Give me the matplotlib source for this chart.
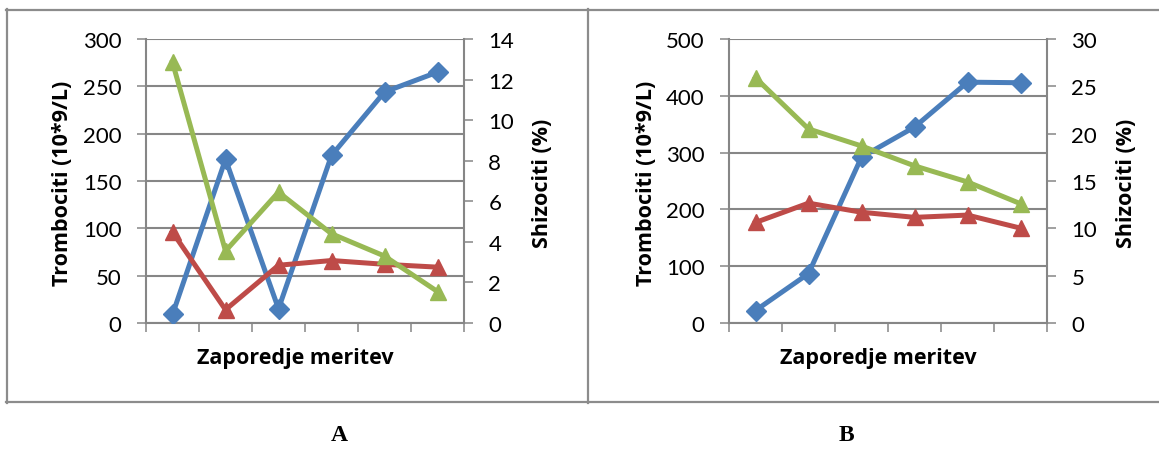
import numpy as np
import matplotlib
matplotlib.use("Agg")
import matplotlib.pyplot as plt
from matplotlib.lines import Line2D

# ---- data ----
categories = [1, 2, 3, 4, 5, 6]

# Panel A
a_blue = [9, 173, 15, 177, 244, 265]        # left axis
a_red = [96, 14, 61, 66, 62, 59]            # left axis
a_green = [12.85, 3.55, 6.45, 4.4, 3.3, 1.55]  # right axis (%)

# Panel B
b_blue = [22, 87, 292, 345, 424, 423]
b_red = [177, 211, 195, 186, 190, 167]
b_green = [25.9, 20.5, 18.7, 16.6, 14.9, 12.6]

a_left_ticks = [0, 50, 100, 150, 200, 250, 300]
a_right_ticks = [0, 2, 4, 6, 8, 10, 12, 14]
b_left_ticks = [0, 100, 200, 300, 400, 500]
b_right_ticks = [0, 5, 10, 15, 20, 25, 30]

left_label = "Trombociti (10*9/L)"
right_label = "Shizociti (%)"
x_label = "Zaporedje meritev"
panel_names = ["A", "B"]

BLUE = "#4A7EBB"
RED = "#BE4B48"
GREEN = "#98B954"
GRAY = "#868686"
FONT = "Lato"
LABFONT = "Open Sans"

W, H = 1159, 452
fig = plt.figure(figsize=(W / 100, H / 100), dpi=100)


def px(x, y):
    return x / W, 1 - y / H


def panel(x0, blue, red, green, lticks, rticks):
    ax_left, ax_right = x0, x0 + 318
    top, bottom = 40, 324
    ax = fig.add_axes([ax_left / W, 1 - bottom / H, 318 / W, 284 / H])
    ax2 = ax.twinx()
    x = np.arange(len(categories))
    ax.plot(x, blue, color=BLUE, lw=3.6, marker="D", ms=10.5, zorder=3,
            solid_joinstyle="round")
    ax.plot(x, red, color=RED, lw=3.6, marker="^", ms=12, zorder=4,
            solid_joinstyle="round")
    ax2.plot(x, green, color=GREEN, lw=3.6, marker="^", ms=12, zorder=5,
             solid_joinstyle="round")
    ax.set_xlim(-0.5, len(categories) - 0.5)
    ax.set_ylim(lticks[0], lticks[-1])
    ax2.set_ylim(rticks[0], rticks[-1])
    ax.set_yticks(lticks)
    ax2.set_yticks(rticks)
    ax.set_xticks(np.arange(-0.5, len(categories), 1.0))
    ax.set_xticklabels([])
    ax.yaxis.grid(True, color=GRAY, lw=1.5)
    ax.set_axisbelow(True)
    for a in (ax, ax2):
        for s in a.spines.values():
            s.set_visible(False)
        a.patch.set_visible(False)
    ax.spines["left"].set_visible(True)
    ax.spines["bottom"].set_visible(True)
    ax2.spines["right"].set_visible(True)
    for s in (ax.spines["left"], ax.spines["bottom"], ax2.spines["right"]):
        s.set_color(GRAY)
        s.set_linewidth(1.5)
    ax.tick_params(axis="y", length=6.5, width=1.1, color=GRAY, pad=11,
                   labelsize=16)
    ax.tick_params(axis="x", length=6.5, width=1.1, color=GRAY)
    ax2.tick_params(axis="y", length=6.5, width=1.1, color=GRAY, pad=11,
                    labelsize=16)
    for lab in ax.get_yticklabels() + ax2.get_yticklabels():
        lab.set_fontfamily(FONT)
    # axis titles
    fig.text(*px(ax_left - 83, 183), left_label, rotation=90, ha="center",
             va="center", fontsize=15.5, fontweight="bold", family=LABFONT)
    fig.text(*px(ax_right + 79, 183), right_label, rotation=90, ha="center",
             va="center", fontsize=15.5, fontweight="bold", family=LABFONT)
    fig.text(*px((ax_left + ax_right) / 2 - 10, 359), x_label, ha="center",
             va="center", fontsize=15.5, fontweight="bold", family=LABFONT)
    return ax, ax2


panel(146, a_blue, a_red, a_green, a_left_ticks, a_right_ticks)
panel(729, b_blue, b_red, b_green, b_left_ticks, b_right_ticks)

# outer frame
frame_kw = dict(color="#8C8C8C", lw=1.6, transform=fig.transFigure)
for (x1, y1), (x2, y2) in [((6, 10.5), (1159, 10.5)),
                           ((6, 403), (1159, 403)),
                           ((7, 10), (7, 404)),
                           ((588, 10), (588, 404))]:
    p1, p2 = px(x1, y1), px(x2, y2)
    fig.add_artist(Line2D([p1[0], p2[0]], [p1[1], p2[1]], **frame_kw))

# panel letters
fig.text(*px(339, 436), panel_names[0], ha="center", va="center",
         fontsize=17, fontweight="bold", family="Liberation Serif")
fig.text(*px(846, 436), panel_names[1], ha="center", va="center",
         fontsize=17, fontweight="bold", family="Liberation Serif")

fig.savefig("out.png", dpi=100)
